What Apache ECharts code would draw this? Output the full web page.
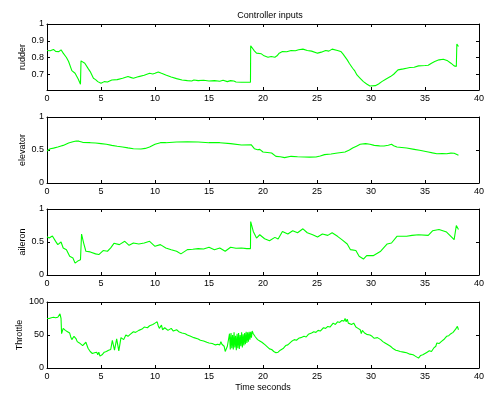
<!DOCTYPE html>
<html>
<head>
<meta charset="utf-8">
<script src="https://cdn.jsdelivr.net/npm/echarts@6/dist/echarts.min.js"></script>
<style>
  html, body { margin: 0; padding: 0; background: #fff; }
  #chart { width: 487px; height: 397px; }
</style>
</head>
<body>
<div id="chart"></div>
<script>
// Recorded controller inputs: [time (s), value]
const rudder = [
  [0,0.842],[0.3,0.84],[0.6,0.848],[0.8,0.836],[1.1,0.835],[1.3,0.846],[1.5,0.826],[1.8,0.8],[2.0,0.776],
  [2.3,0.722],[2.4,0.73],[2.6,0.706],[2.9,0.67],[3.1,0.64],[3.15,0.78],[3.3,0.786],[3.5,0.766],[3.8,0.735],
  [4.0,0.716],[4.3,0.676],[4.5,0.668],[4.7,0.656],[5.0,0.646],[5.3,0.656],[5.6,0.654],[6.0,0.666],[6.5,0.668],
  [7.0,0.676],[7.5,0.686],[7.8,0.68],[8.0,0.676],[8.5,0.686],[9.0,0.694],[9.5,0.706],[9.8,0.702],[10.0,0.706],
  [10.3,0.714],[10.6,0.706],[11.0,0.696],[11.5,0.684],[12.0,0.674],[12.5,0.666],[13.0,0.662],[13.4,0.66],
  [13.6,0.666],[14.0,0.662],[14.5,0.664],[15.0,0.66],[15.5,0.662],[16.0,0.658],[16.3,0.664],[16.7,0.656],
  [17.0,0.662],[17.3,0.66],[17.5,0.654],[18.0,0.652],[18.5,0.652],[18.84,0.652],[18.86,0.87],[19.0,0.86],
  [19.2,0.84],[19.4,0.826],[19.85,0.822],[20.1,0.81],[20.46,0.802],[20.76,0.806],[20.9,0.8],[21.1,0.802],
  [21.3,0.81],[21.5,0.826],[21.8,0.836],[22.2,0.834],[22.6,0.842],[23.0,0.84],[23.3,0.846],[23.7,0.85],
  [24.1,0.842],[24.5,0.838],[25.05,0.826],[25.4,0.832],[25.8,0.842],[26.1,0.838],[26.4,0.85],[26.9,0.842],
  [27.2,0.836],[27.4,0.822],[27.8,0.786],[28.0,0.764],[28.3,0.736],[28.5,0.72],[28.7,0.696],[29.0,0.676],
  [29.3,0.656],[29.6,0.642],[29.9,0.63],[30.4,0.632],[30.7,0.642],[31.0,0.656],[31.4,0.672],[31.8,0.686],
  [32.1,0.7],[32.5,0.726],[33.0,0.732],[33.3,0.736],[33.6,0.74],[34.0,0.742],[34.4,0.75],[35.0,0.752],
  [35.3,0.754],[35.6,0.766],[35.9,0.776],[36.3,0.786],[36.7,0.79],[37.1,0.78],[37.4,0.766],[37.7,0.75],
  [37.9,0.746],[37.95,0.88],[38.1,0.866]
];

const elevator = [
  [0,0.485],[0.15,0.51],[0.3,0.52],[0.6,0.528],[1.0,0.545],[1.3,0.56],[1.5,0.57],[2.0,0.606],[2.4,0.626],
  [2.7,0.636],[2.95,0.634],[3.05,0.61],[3.3,0.616],[4.0,0.611],[4.5,0.605],[5.0,0.596],[5.5,0.586],[6.0,0.57],
  [6.5,0.556],[7.0,0.545],[7.5,0.532],[8.0,0.52],[8.7,0.515],[9.1,0.524],[9.5,0.545],[10.0,0.586],[10.5,0.611],
  [11.0,0.611],[12.0,0.621],[13.0,0.626],[14.0,0.621],[15.0,0.611],[16.0,0.611],[17.0,0.596],[18.0,0.576],
  [18.9,0.58],[19.2,0.52],[19.5,0.505],[19.7,0.51],[20.0,0.47],[20.8,0.455],[21.2,0.404],[21.6,0.398],
  [22.0,0.384],[22.6,0.404],[23.2,0.398],[23.8,0.394],[24.3,0.392],[24.9,0.394],[25.3,0.41],[25.7,0.43],
  [26.3,0.44],[26.9,0.455],[27.6,0.47],[28.0,0.5],[28.3,0.53],[28.7,0.562],[29.0,0.586],[29.5,0.596],
  [29.9,0.586],[30.3,0.57],[30.8,0.562],[31.2,0.56],[31.6,0.572],[31.9,0.586],[32.1,0.565],[32.4,0.545],
  [33.3,0.53],[34.0,0.51],[34.5,0.495],[35.3,0.47],[35.7,0.456],[36.1,0.444],[36.6,0.448],[37.0,0.444],
  [37.4,0.452],[37.7,0.45],[38.1,0.42]
];

const aileron = [
  [0,0.58],[0.2,0.56],[0.5,0.59],[0.8,0.51],[1.0,0.46],[1.3,0.5],[1.5,0.41],[1.8,0.384],[2.1,0.283],
  [2.4,0.258],[2.6,0.18],[2.9,0.217],[3.1,0.23],[3.2,0.62],[3.4,0.48],[3.6,0.36],[4.0,0.35],[4.5,0.32],
  [4.8,0.31],[5.2,0.37],[5.6,0.36],[5.9,0.41],[6.2,0.48],[6.7,0.46],[7.2,0.51],[7.6,0.45],[8.0,0.485],
  [8.5,0.47],[9.0,0.485],[9.5,0.51],[10.0,0.435],[10.5,0.46],[11.0,0.41],[11.5,0.384],[12.0,0.36],
  [12.4,0.32],[13.0,0.384],[13.5,0.39],[14.0,0.4],[14.5,0.395],[15.0,0.42],[15.5,0.384],[16.0,0.41],
  [16.5,0.36],[17.0,0.42],[17.5,0.405],[18.0,0.41],[18.5,0.4],[18.84,0.4],[18.86,0.81],[19.1,0.66],
  [19.4,0.56],[19.7,0.61],[20.15,0.55],[20.6,0.52],[21.1,0.57],[21.4,0.545],[21.8,0.66],[22.3,0.62],
  [22.75,0.67],[23.2,0.64],[23.7,0.7],[24.1,0.64],[24.6,0.61],[25.05,0.576],[25.5,0.62],[26.0,0.6],
  [26.4,0.64],[26.9,0.586],[27.3,0.535],[27.8,0.47],[28.1,0.384],[28.6,0.37],[28.9,0.283],[29.3,0.242],
  [29.6,0.293],[30.2,0.293],[30.9,0.36],[31.5,0.47],[31.9,0.485],[32.4,0.586],[33.3,0.586],[33.8,0.6],
  [34.4,0.61],[35.3,0.6],[35.7,0.67],[36.3,0.69],[37.0,0.65],[37.7,0.535],[37.85,0.52],[37.9,0.75],[38.1,0.69]
];

const throttle = [
  [0,75],[0.1,77],[0.2,75],[0.3,78],[0.4,76],[0.5,78],[0.6,77],[0.7,79],[0.8,76],[0.9,78],[1.0,77],[1.1,80],
  [1.2,82],[1.3,75],[1.35,52],[1.45,50],[1.5,60],[1.7,57],[1.9,55],[2.0,52],[2.1,53],[2.2,47],[2.3,43],
  [2.4,46],[2.5,48],[2.6,48],[2.7,44],[2.8,40],[3.0,38],[3.1,35],[3.3,34],[3.4,36],[3.6,39],[3.7,36],
  [3.8,30],[4.0,25],[4.1,27],[4.2,22],[4.4,23],[4.5,21],[4.6,24],[4.7,20],[4.8,24],[4.9,18],[5.0,15],
  [5.1,20],[5.2,19],[5.3,24],[5.4,22],[5.5,25],[5.6,24],[5.7,27],[5.8,26],[5.9,28],[6.0,27],[6.05,42],
  [6.15,44],[6.25,27],[6.35,29],[6.45,44],[6.55,45],[6.65,26],[6.75,25],[6.85,46],[6.95,48],[7.1,43],
  [7.3,50],[7.5,48],[7.7,51],[8.0,55],[8.2,54],[8.5,57],[8.8,59],[9.0,62],[9.3,61],[9.5,64],[9.8,66],
  [10.0,68],[10.2,70],[10.3,64],[10.4,60],[10.5,57],[10.6,65],[10.7,58],[10.9,61],[11.0,59],[11.2,57],
  [11.5,60],[11.7,56],[12.0,58],[12.2,55],[12.5,53],[12.8,52],[13.0,50],[13.3,48],[13.6,46],[14.0,44],
  [14.2,42],[14.5,41],[14.8,39],[15.0,38],[15.3,37],[15.6,35],[15.8,36],[16.0,35],[16.1,40],[16.2,36],
  [16.4,33],[16.5,25],[16.6,28],[16.7,33],[16.8,30],[16.9,52],[16.97,28],[17.04,53],[17.11,30],[17.18,50],
  [17.25,28],[17.32,54],[17.39,31],[17.46,49],[17.53,27],[17.6,52],[17.67,30],[17.74,53],[17.81,29],
  [17.88,50],[17.95,33],[18.02,54],[18.09,31],[18.16,51],[18.23,34],[18.3,53],[18.37,36],[18.44,55],
  [18.51,38],[18.58,54],[18.65,40],[18.72,55],[18.79,43],[18.86,55],[18.93,46],[19.0,56],[19.1,52],
  [19.3,47],[19.5,43],[19.7,41],[19.9,39],[20.0,38],[20.2,35],[20.4,32],[20.6,29],[20.8,28],[21.0,25],
  [21.2,23],[21.4,24],[21.6,27],[21.7,28],[21.9,30],[22.0,27],[22.1,34],[22.2,37],[22.3,35],[22.5,38],
  [22.7,41],[22.9,43],[23.1,42],[23.3,45],[23.5,46],[23.8,48],[24.0,47],[24.2,51],[24.5,53],[24.7,55],
  [24.9,54],[25.1,57],[25.3,56],[25.6,61],[25.8,60],[26.0,63],[26.2,62],[26.5,68],[26.7,66],[26.9,70],
  [27.1,69],[27.3,72],[27.5,71],[27.6,75],[27.7,70],[27.8,74],[27.9,68],[28.0,71],[28.2,66],[28.4,68],
  [28.6,62],[28.8,60],[29.0,58],[29.1,52],[29.2,57],[29.4,53],[29.6,51],[29.9,50],[30.1,48],[30.3,45],
  [30.6,46],[30.9,43],[31.1,40],[31.3,38],[31.5,36],[31.8,33],[32.0,30],[32.3,27],[32.5,26],[32.7,25],
  [33.0,24],[33.3,23],[33.6,21],[33.9,20],[34.1,18],[34.4,15],[34.6,19],[34.8,20],[35.0,22],[35.2,24],
  [35.4,26],[35.6,25],[35.8,30],[36.0,33],[36.1,38],[36.3,37],[36.5,40],[36.8,44],[37.0,48],[37.2,49],
  [37.4,52],[37.6,54],[37.8,58],[38.0,63],[38.1,58]
];

// Panel settings: label, data, y range and labelled ticks
const panelNames = ['rudder', 'elevator', 'aileron', 'Throttle'];
const panelData = [rudder, elevator, aileron, throttle];
const yMins = [0.606, 0, 0, 0];
const yMaxs = [1, 1, 1, 100];
const yTicks = [[0.7, 0.8, 0.9, 1], [0, 0.5, 1], [0, 0.5, 1], [0, 50, 100]];
const xTicks = [0, 5, 10, 15, 20, 25, 30, 35, 40];

const FONT = '"Liberation Sans", Arial, Helvetica, sans-serif';
const gridTops = [24, 117, 209, 302];
const gridH = 66;

const grids = [], xAxes = [], yAxes = [], series = [];
const lineAxis = { show: true, onZero: false, lineStyle: { color: '#000', width: 1 } };
const tick = vals => ({ show: true, inside: true, length: 3, customValues: vals, lineStyle: { color: '#000', width: 1 } });

panelNames.forEach((name, i) => {
  grids.push({ left: 47, right: 4, top: gridTops[i], height: gridH });
  // bottom + top x axes
  xAxes.push({
    type: 'value', gridIndex: i, min: 0, max: 40, position: 'bottom',
    axisLine: lineAxis, axisTick: tick(xTicks), splitLine: { show: false },
    axisLabel: { show: true, customValues: xTicks, fontSize: 9, color: '#000', fontFamily: FONT, margin: 4 },
    name: i === 3 ? 'Time seconds' : '', nameLocation: 'middle', nameGap: 15, nameMoveOverlap: false,
    nameTextStyle: { fontSize: 9, color: '#000', fontFamily: FONT }
  });
  xAxes.push({
    type: 'value', gridIndex: i, min: 0, max: 40, position: 'top',
    axisLine: lineAxis, axisTick: tick(xTicks), splitLine: { show: false },
    axisLabel: { show: false }
  });
  // left + right y axes
  yAxes.push({
    type: 'value', gridIndex: i, min: yMins[i], max: yMaxs[i], position: 'left',
    axisLine: lineAxis, axisTick: tick(yTicks[i]), splitLine: { show: false },
    axisLabel: { show: true, customValues: yTicks[i], fontSize: 9, color: '#000', fontFamily: FONT, margin: 3 },
    name: name, nameLocation: 'middle', nameGap: i === 3 ? 23 : 20, nameRotate: 90, nameMoveOverlap: false,
    nameTextStyle: { fontSize: 9, color: '#000', fontFamily: FONT }
  });
  yAxes.push({
    type: 'value', gridIndex: i, min: yMins[i], max: yMaxs[i], position: 'right',
    axisLine: lineAxis, axisTick: tick(yTicks[i]), splitLine: { show: false },
    axisLabel: { show: false }
  });
  series.push({
    type: 'line', xAxisIndex: 2 * i, yAxisIndex: 2 * i, data: panelData[i],
    showSymbol: false, symbol: 'none', animation: false,
    lineStyle: { color: '#00ff00', width: 1.1 }, itemStyle: { color: '#00ff00' }
  });
});

const chart = echarts.init(document.getElementById('chart'), null, { renderer: 'canvas' });
chart.setOption({
  animation: false,
  backgroundColor: '#fff',
  title: {
    text: 'Controller inputs', left: 265, top: 6, textAlign: 'center',
    textStyle: { fontSize: 9, fontWeight: 'normal', color: '#000', fontFamily: FONT }
  },
  grid: grids,
  xAxis: xAxes,
  yAxis: yAxes,
  series: series
});
</script>
</body>
</html>
